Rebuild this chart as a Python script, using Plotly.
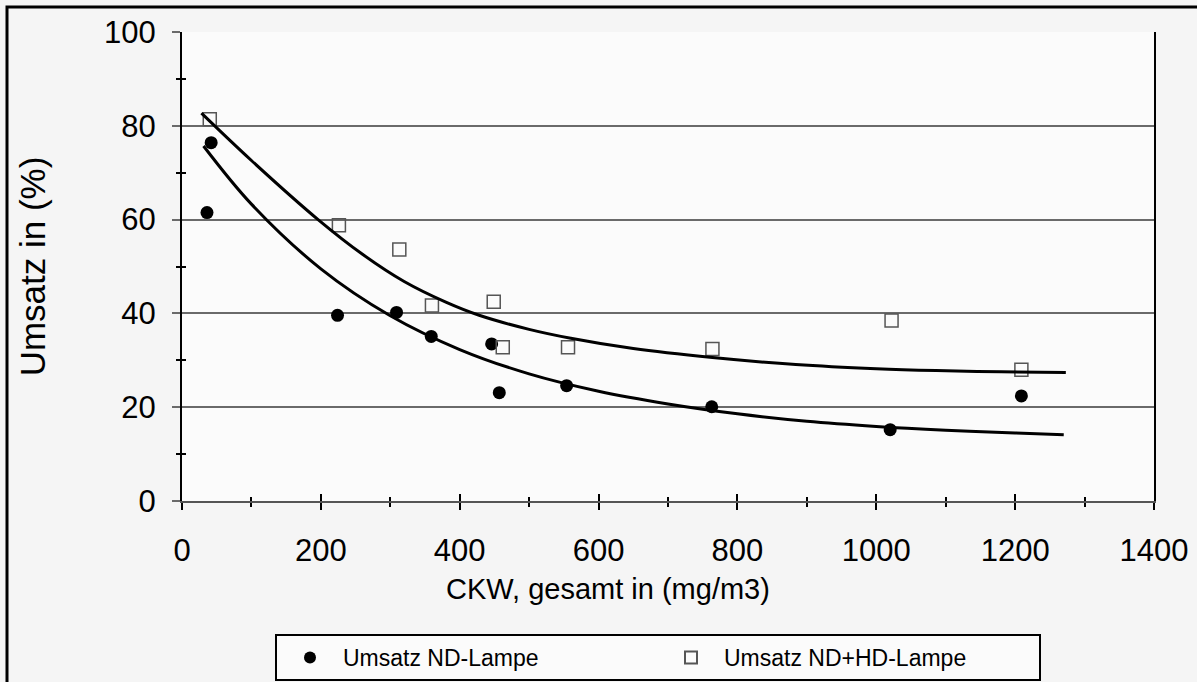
import plotly.graph_objects as go

# ---- data ----
nd_x = [42, 36, 224, 309, 359, 446, 457, 554, 763, 1020, 1209]
nd_y = [76.4, 61.5, 39.6, 40.2, 35.1, 33.5, 23.1, 24.6, 20.1, 15.2, 22.4]

ndhd_x = [40, 226, 313, 360, 449, 462, 556, 764, 1022, 1209]
ndhd_y = [81.4, 58.8, 53.6, 41.7, 42.5, 32.8, 32.8, 32.4, 38.5, 28.0]

# trend curves
fit_ndhd_x = [28, 100, 196, 260, 320, 380, 428, 500, 560, 650, 764, 884, 1000, 1086, 1180, 1273]
fit_ndhd_y = [82.7, 72.6, 60.0, 52.6, 46.8, 42.4, 39.6, 36.6, 34.7, 32.5, 30.6, 29.1, 28.2, 27.8, 27.55, 27.4]

fit_nd_x = [31, 100, 200, 300, 400, 500, 600, 700, 800, 900, 1000, 1100, 1200, 1270]
fit_nd_y = [75.7, 63.3, 49.5, 39.5, 32.3, 27.1, 23.4, 20.7, 18.6, 17.0, 15.9, 15.1, 14.5, 14.1]

x_ticks = [0, 200, 400, 600, 800, 1000, 1200, 1400]
y_ticks = [0, 20, 40, 60, 80, 100]

legend_names = ["Umsatz ND-Lampe", "Umsatz ND+HD-Lampe"]
x_title = "CKW, gesamt in (mg/m3)"
y_title = "Umsatz in (%)"

FONT = "Liberation Sans, Arial, sans-serif"

fig = go.Figure()

fig.add_trace(go.Scatter(
    x=nd_x, y=nd_y, mode="markers", name=legend_names[0],
    marker=dict(symbol="circle", size=13, color="black"),
))
fig.add_trace(go.Scatter(
    x=ndhd_x, y=ndhd_y, mode="markers", name=legend_names[1],
    marker=dict(symbol="square-open", size=13, color="#555555", line=dict(width=1.5)),
))
fig.add_trace(go.Scatter(
    x=fit_ndhd_x, y=fit_ndhd_y, mode="lines", showlegend=False,
    line=dict(color="black", width=3, shape="spline", smoothing=1.0),
))
fig.add_trace(go.Scatter(
    x=fit_nd_x, y=fit_nd_y, mode="lines", showlegend=False,
    line=dict(color="black", width=3, shape="spline", smoothing=1.0),
))
# helper trace for overlay axes (crossing ticks)
fig.add_trace(go.Scatter(x=[None], y=[None], xaxis="x2", yaxis="y2",
                         showlegend=False, hoverinfo="skip"))

PW = 972
PH = 469

fig.update_layout(
    width=1197, height=682,
    margin=dict(l=182, r=43, t=32, b=181, autoexpand=False),
    paper_bgcolor="#f5f5f5",
    plot_bgcolor="#fbfbfb",
    font=dict(family=FONT, color="black"),
    showlegend=True,
    xaxis=dict(
        range=[0, 1400], tickvals=x_ticks, ticktext=[str(v) for v in x_ticks],
        showgrid=False, zeroline=False,
        showline=True, linecolor="#555555", linewidth=2,
        ticks="outside", ticklen=7, tickwidth=1.5, tickcolor="black",
        minor=dict(dtick=100, tick0=0, ticks="outside", ticklen=4, tickwidth=1.5, tickcolor="black"),
        tickfont=dict(size=31, family=FONT),
        ticklabelstandoff=14,
    ),
    yaxis=dict(
        range=[0, 100], tickvals=y_ticks, ticktext=[str(v) for v in y_ticks],
        showgrid=True, gridcolor="#6a6a6a", gridwidth=2,
        zeroline=False,
        showline=True, linecolor="black", linewidth=2, mirror=True,
        ticks="outside", ticklen=8, tickwidth=2, tickcolor="#6a6a6a",
        minor=dict(dtick=20, tick0=10, ticks="outside", ticklen=4, tickwidth=1.5, tickcolor="black", showgrid=False),
        tickfont=dict(size=31, family=FONT),
        ticklabelstandoff=10,
        title=dict(text=y_title, font=dict(size=35, family=FONT), standoff=48),
    ),
    xaxis2=dict(
        overlaying="x", matches="x", range=[0, 1400], tickvals=x_ticks,
        showticklabels=False, showgrid=False, zeroline=False, showline=False,
        ticks="inside", ticklen=7, tickwidth=1.5, tickcolor="black",
        minor=dict(dtick=100, tick0=0, ticks="inside", ticklen=4, tickwidth=1.5, tickcolor="black"),
        anchor="y2",
    ),
    yaxis2=dict(
        overlaying="y", range=[0, 100], tickvals=y_ticks,
        showticklabels=False, showgrid=False, zeroline=False, showline=False,
        ticks="",
        minor=dict(dtick=20, tick0=10, ticks="inside", ticklen=4, tickwidth=1.5, tickcolor="black"),
        anchor="x2",
    ),
    legend=dict(
        orientation="h",
        x=(275 - 182) / PW, xanchor="left",
        y=(501 - 634) / PH, yanchor="top",
        bgcolor="#fbfbfb", bordercolor="black", borderwidth=2,
        font=dict(size=23, family=FONT),
        itemwidth=56,
        entrywidth=310, entrywidthmode="pixels",
        itemsizing="constant",
    ),
    annotations=[
        dict(text=x_title, xref="paper", yref="paper",
             x=(608 - 182) / PW, y=(501 - 589) / PH, xanchor="center", yanchor="middle",
             showarrow=False, font=dict(size=29, family=FONT)),
    ],
    shapes=[
        dict(type="rect", xref="paper", yref="paper",
             x0=(7 - 182) / PW, x1=(1240 - 182) / PW,
             y0=(501 - 720) / PH, y1=(501 - 7) / PH,
             line=dict(color="black", width=3), fillcolor="rgba(0,0,0,0)", layer="below"),
    ],
)

fig.write_html("out.html")
